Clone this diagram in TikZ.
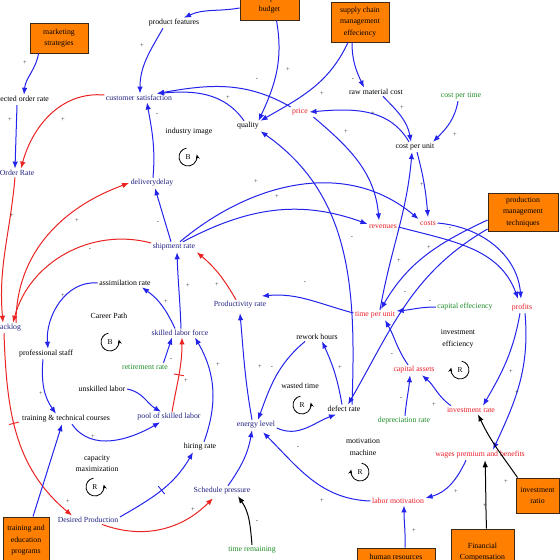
\documentclass[tikz,border=0pt]{standalone}
\usepackage{fontspec}
\setmainfont{Liberation Serif}
\usetikzlibrary{arrows.meta,decorations.markings}
\definecolor{navyt}{RGB}{35,35,130}
\definecolor{redt}{RGB}{235,30,40}
\definecolor{greent}{RGB}{30,140,40}
\definecolor{lblue}{RGB}{35,35,235}
\definecolor{lred}{RGB}{235,35,35}
\definecolor{orng}{RGB}{255,128,0}
\definecolor{boxline}{RGB}{60,40,20}
\newcommand\dgfont{\fontsize{7.8}{11.5}\selectfont}
\newcommand\dgsign{\fontsize{6.5}{6.5}\selectfont}
\begin{document}
\begin{tikzpicture}[x=1pt,y=1pt,
  tk/.style={font=\dgfont, inner sep=1.5pt, text=black},
  nv/.style={tk, text=navyt},
  rt/.style={tk, text=redt},
  gt/.style={tk, text=greent},
  box/.style={draw=boxline, line width=0.9pt, fill=orng, font=\dgfont, align=center, inner sep=1pt},
  bluearr/.style={color=lblue, line width=1pt, -{Latex[length=7pt,width=5.5pt]}},
  redarr/.style={color=lred, line width=1pt, -{Latex[length=7pt,width=5.5pt]}},
  blackarr/.style={color=black, line width=1pt, -{Latex[length=7pt,width=5.5pt]}},
  sg/.style={font=\dgsign, text=black!80, inner sep=0pt},
  hashat/.style={postaction={decorate,decoration={markings,mark=at position #1 with {\draw[-,line width=0.9pt] (0,-5pt) -- (0,5pt);}}}},
  lp/.style={draw=black, line width=0.8pt, -{Stealth[length=4.5pt,width=4pt]}},
  lpt/.style={font=\fontsize{7.5}{7.5}\selectfont, inner sep=0pt}
]
\useasboundingbox (0,0) rectangle (560,-560);
\clip (0,0) rectangle (560,-560);
\fill[white] (0,0) rectangle (560,-560);

% boxes
\node[box, minimum width=58pt, minimum height=30pt] (mkt) at (59,-38) {marketing\\strategies};
\node[box, minimum width=59pt, minimum height=32pt] (dev) at (269.5,-4) {development\\budget};
\node[box, minimum width=58pt, minimum height=40pt] (scm) at (360,-22) {supply chain\\management\\effeciency};
\node[box, minimum width=70pt, minimum height=38pt] (pmt) at (523,-212) {production\\management\\techniques};
\node[box, minimum width=43pt, minimum height=35pt] (invr) at (537.5,-495.5) {investment\\ratio};
\node[box, minimum width=63pt, minimum height=46pt] (fin) at (482.5,-552) {Financial\\Compensation};
\node[box, minimum width=78pt, minimum height=17pt] (hr) at (396,-556.5) {human resources};
\node[box, minimum width=46pt, minimum height=47pt] (tep) at (26,-540.5) {training and\\education\\programs};

% black text
\node[tk] (pf) at (174,-23) {product features};
\node[tk] (eor) at (19,-100) {expected order rate};
\node[tk] (qual) at (248,-126) {quality};
\node[tk] (rmc) at (376,-92) {raw material cost};
\node[tk] (cpu) at (415,-147) {cost per unit};
\node[tk] (ii) at (189,-132) {industry image};
\node[tk] (ar) at (125,-283) {assimilation rate};
\node[tk] (cp) at (109,-316) {Career Path};
\node[tk] (ps) at (46,-354) {professional staff};
\node[tk] (rh) at (317,-337) {rework hours};
\node[tk, align=center] (ie) at (458,-339) {investment\\efficiency};
\node[tk] (ul) at (102,-389) {unskilled labor};
\node[tk] (wt) at (300,-386) {wasted time};
\node[tk] (dr) at (344,-409) {defect rate};
\node[tk] (ttc) at (66,-419) {training \& technical courses};
\node[tk] (hire) at (200,-447) {hiring rate};
\node[tk, align=center] (capm) at (97,-463.5) {capacity\\maximization};
\node[tk, align=center] (mm) at (363,-447) {motivation\\machine};
% navy text
\node[nv] (cs) at (139,-98) {customer satisfaction};
\node[nv] (ordr) at (17,-173) {Order Rate};
\node[nv] (dd) at (152,-183) {deliverydelay};
\node[nv] (sr) at (174,-247) {shipment rate};
\node[nv] (blog) at (8,-328) {Backlog};
\node[nv] (pr) at (240,-305) {Productivity rate};
\node[nv] (slf) at (180,-333) {skilled labor force};
\node[nv] (pool) at (169,-417) {pool of skilled labor};
\node[nv] (el) at (256,-425) {energy level};
\node[nv] (dp) at (88,-520) {Desired Production};
\node[nv] (sp) at (222,-491) {Schedule pressure};
% red text
\node[rt] (price) at (300,-112) {price};
\node[rt] (rev) at (383,-227) {revenues};
\node[rt] (costs) at (428,-223) {costs};
\node[rt] (tpu) at (375,-315) {time per unit};
\node[rt] (prof) at (522,-308) {profits};
\node[rt] (ca) at (414,-370) {capital assets};
\node[rt] (irate) at (471,-410) {investment rate};
\node[rt] (wpb) at (480,-455) {wages premium and benefits};
\node[rt] (lm) at (398,-501) {labor motivation};
% green text
\node[gt] (cpt) at (461,-96) {cost per time};
\node[gt] (ce) at (465,-307) {capital effeciency};
\node[gt] (rr) at (145,-367) {retirement rate};
\node[gt] (dep) at (404,-421) {depreciation rate};
\node[gt] (tr) at (252,-550) {time remaining};

% loops
\draw[lp] (188,-157) ++(100:9pt) arc[start angle=100, end angle=375, radius=9pt];
\node[lpt] (lpa) at (188,-157) {B};
\draw[lp] (110,-342) ++(100:9pt) arc[start angle=100, end angle=375, radius=9pt];
\node[lpt] (lpb) at (110,-342) {B};
\draw[lp] (95,-487) ++(100:9pt) arc[start angle=100, end angle=375, radius=9pt];
\node[lpt] (lpc) at (95,-487) {R};
\draw[lp] (302,-405) ++(100:9pt) arc[start angle=100, end angle=375, radius=9pt];
\node[lpt] (lpd) at (302,-405) {R};
\draw[lp] (460,-370) ++(80:9pt) arc[start angle=80, end angle=-195, radius=9pt];
\node[lpt] (lpe) at (460,-370) {R};
\draw[lp] (360,-472) ++(80:9pt) arc[start angle=80, end angle=-195, radius=9pt];
\node[lpt] (lpf) at (360,-472) {R};

% connectors
\draw[bluearr] ([xshift=9pt]mkt.south west) to[out=-100,in=85] ([xshift=5pt]eor.north);
\draw[bluearr] ([xshift=-2pt]eor.south) -- ([xshift=-2pt]ordr.north);
\draw[redarr] ([yshift=3pt]cs.west) to[out=175,in=75] ([xshift=4pt]ordr.north);
\draw[bluearr] ([xshift=-11pt]pf.south) to[out=-120,in=90] ([xshift=1pt]cs.north);
\draw[bluearr] ([yshift=-4pt]dev.west) to[out=190,in=25] ([xshift=10pt]pf.north);
\draw[bluearr] ([xshift=7pt]dev.south) to[out=-80,in=65] ([xshift=-2pt]qual.north east);
\draw[bluearr] ([xshift=-12pt]scm.south) to[out=-115,in=30] (qual.north east);
\draw[bluearr] ([xshift=-8pt]scm.south) to[out=-90,in=115] ([xshift=-12pt]rmc.north);
\draw[bluearr] ([xshift=7pt]rmc.south) to[out=-45,in=100] ([xshift=-4pt]cpu.north);
\draw[bluearr] ([xshift=-3pt]cpt.south) to[out=-100,in=45] ([xshift=-3pt]cpu.north east);
\draw[bluearr] ([xshift=-6pt]cpu.north) to[out=120,in=5] (price.east);
\draw[bluearr] (price.north west) to[out=150,in=10] ([xshift=18pt]cs.north);
\draw[bluearr] ([xshift=-4pt]qual.north) to[out=125,in=5] ([xshift=18pt]cs.north);
\draw[bluearr] ([xshift=1pt]dd.north) to[out=85,in=-80] ([xshift=8pt]cs.south);
\draw[bluearr] ([xshift=-3pt]sr.north) -- ([xshift=3pt]dd.south);
\draw[redarr] ([xshift=8pt]blog.north) to[out=90,in=200] (dd.west);
\draw[redarr] ([yshift=4pt]sr.west) to[out=165,in=75] ([xshift=5pt]blog.north);
\draw[redarr] ([xshift=-2pt]ordr.south) to[out=-95,in=95] ([xshift=-5pt]blog.north);
\draw[redarr, hashat=0.45] ([xshift=-4pt]blog.south) to[out=-88,in=140] ([xshift=-16pt]dp.north);
\draw[redarr] ([xshift=14pt]dp.south) to[out=-20,in=225] ([xshift=-9pt,yshift=-2pt]sp.south);
\draw[bluearr, hashat=0.5] ([yshift=3pt]dp.east) to[out=30,in=-120] ([xshift=-7pt]hire.south);
\draw[bluearr] ([xshift=4pt]hire.north) to[out=70,in=-60] ([xshift=15pt]slf.south);
\draw[redarr, hashat=0.5] ([xshift=3pt]pool.north) to[out=80,in=-90] ([xshift=2pt]slf.south);
\draw[bluearr] ([xshift=-6pt]rr.north east) -- ([xshift=-8pt]slf.south);
\draw[bluearr] (ul.east) to[out=-10,in=150] ([xshift=-8pt]pool.north);
\draw[bluearr] ([xshift=6pt]ttc.south) to[out=-55,in=210] ([xshift=-9pt]pool.south);
\draw[bluearr] ([xshift=-5pt]slf.north) to[out=115,in=-35] ([xshift=17pt]ar.south);
\draw[bluearr] (ar.west) to[out=175,in=95] ([xshift=2pt]ps.north);
\draw[bluearr] ([xshift=-3pt]ps.south) to[out=-95,in=125] ([xshift=-10pt]ttc.north);
\draw[bluearr] ([xshift=7pt]tep.north) -- ([xshift=-4pt]ttc.south);
\draw[bluearr] ([xshift=1pt]slf.north) to[out=92,in=-88] ([xshift=3pt]sr.south);
\draw[redarr] ([xshift=-4pt]pr.north) to[out=120,in=-40] (sr.south east);
\draw[bluearr] ([xshift=6pt]sr.north) to[out=40,in=140] (costs.north west);
\draw[bluearr] ([xshift=9pt]sr.north) to[out=28,in=160] ([yshift=3pt]rev.west);
\draw[bluearr] ([xshift=4pt]price.south east) to[out=-40,in=95] ([xshift=-4pt,yshift=3pt]rev.north);
\draw[bluearr] ([xshift=2pt]cpu.south) to[out=-75,in=95] ([yshift=2pt]costs.north);
\draw[bluearr] ([xshift=5pt]tpu.north) to[out=80,in=-95] ([xshift=-3pt]cpu.south);
\draw[bluearr] ([xshift=8pt]dr.north) to[out=88,in=-35] (qual.south east);
\draw[bluearr] (rev.east) to[out=-15,in=110] ([xshift=-4pt,yshift=4pt]prof.north);
\draw[bluearr] (costs.east) to[out=-5,in=95] ([xshift=-1pt,yshift=4pt]prof.north);
\draw[bluearr] ([yshift=-8pt]pmt.west) to[out=205,in=60] ([xshift=6pt,yshift=1pt]tpu.north);
\draw[bluearr] ([yshift=-17pt]pmt.west) to[out=210,in=60] ([xshift=4pt]dr.north);
\draw[bluearr] (ce.west) to[out=180,in=5] ([yshift=4pt]tpu.east);
\draw[bluearr] ([xshift=-6pt]ca.north) to[out=125,in=-60] ([xshift=10pt]tpu.south);
\draw[bluearr] ([xshift=1pt]dep.north) to[out=85,in=-95] ([xshift=-4pt]ca.south);
\draw[bluearr] ([xshift=-20pt]irate.north) to[out=145,in=-40] ([xshift=8pt]ca.south);
\draw[bluearr] ([xshift=-2pt]prof.south) to[out=-100,in=60] ([xshift=12pt]irate.north);
\draw[bluearr] ([xshift=3pt]prof.south) to[out=-85,in=65] ([xshift=13pt]wpb.north);
\draw[blackarr] ([xshift=2pt]invr.north west) to[out=125,in=-65] ([xshift=7pt]irate.south);
\draw[blackarr] ([xshift=4pt]fin.north) to[out=92,in=-88] ([xshift=5pt]wpb.south);
\draw[bluearr] ([xshift=-14pt]wpb.south) to[out=-115,in=15] ([yshift=3pt]lm.east);
\draw[bluearr] ([xshift=9pt]hr.north) to[out=88,in=-90] ([xshift=6pt]lm.south);
\draw[bluearr] (lm.west) to[out=178,in=-45] ([xshift=7pt,yshift=-2pt]el.south);
\draw[bluearr] ([xshift=6pt]sp.north) to[out=55,in=-100] ([xshift=-4pt]el.south);
\draw[blackarr] (tr.north) to[out=95,in=-55] ([xshift=16pt]sp.south);
\draw[bluearr] ([xshift=-4pt]el.north) to[out=100,in=-85] ([yshift=-3pt]pr.south);
\draw[bluearr] ([xshift=-12pt]rh.south) to[out=-140,in=70] ([xshift=2pt]el.north);
\draw[bluearr] ([yshift=-3pt]el.east) to[out=-25,in=200] ([xshift=-8pt,yshift=-1pt]dr.south);
\draw[bluearr] ([xshift=-2pt]dr.north) to[out=100,in=-65] ([xshift=5pt]rh.south);
\draw[bluearr] ([yshift=2pt]tpu.west) to[out=165,in=5] ([xshift=-6pt,yshift=9pt]pr.east);

% polarity signs
\foreach \px/\py/\sgn [count=\i] in {25/63/+, 10/120/+, 63/120/+, 142/46/+, 257/80/-, 228/98/+, 157/115/-, 288/70/+, 322/94/+, 353/80/-, 402/108/+, 373/114/+, 346/132/+, 455/135/+, 12/216/+, 77/221/+, 158/223/-, 90/250/-, 256/182/+, 277/197/+, 422/185/+, 450/229/-, 429/248/+, 503/255/-, 352/238/-, 399/261/+, 405/293/-, 430/302/-, 63/296/+, 166/302/+, 188/286/+, 217/285/+, 305/283/-, 171/360/-, 218/365/+, 186/381/+, 41/394/+, 260/367/+, 272/368/-, 340/368/+, 392/355/-, 401/399/-, 434/405/+, 511/372/+, 517/393/+, 93/437/+, 68/502/+, 193/510/+, 257/522/-, 298/448/-, 322/501/+, 456/492/+, 506/482/+, 485/506/+, 414/531/+}
  \node[sg] (s\i) at (\px,-\py) {\sgn};
\end{tikzpicture}
\end{document}
